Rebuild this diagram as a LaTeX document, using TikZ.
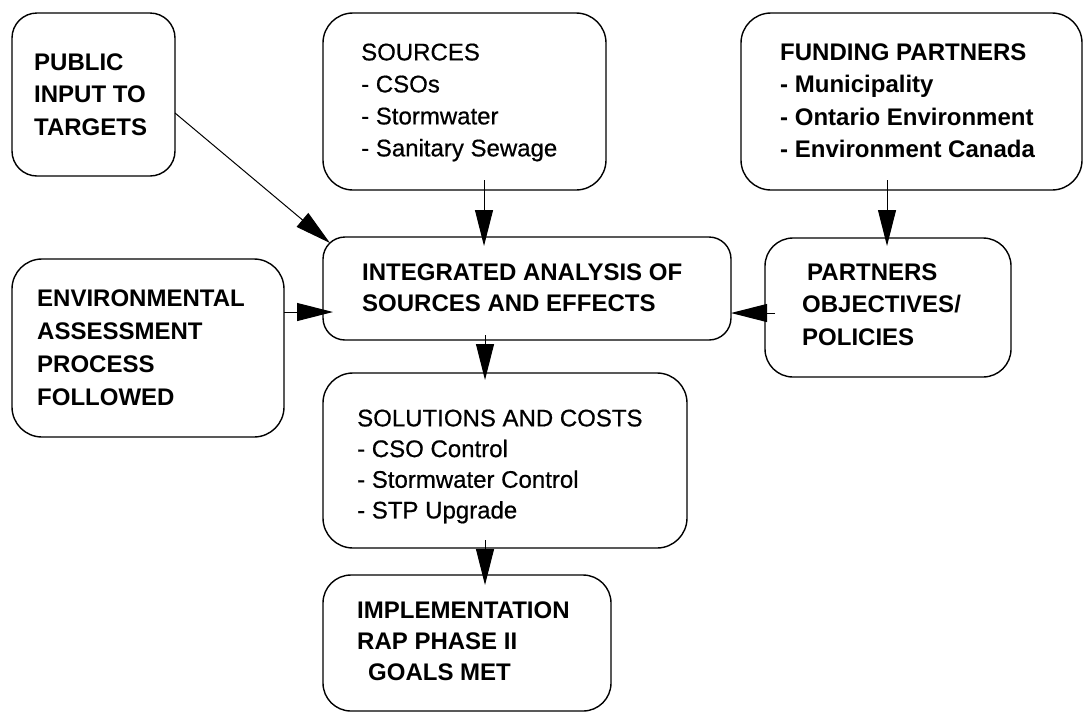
\documentclass[tikz,border=0pt]{standalone}
\usepackage{fontspec}
\setmainfont{Liberation Sans}
\newfontfamily\medfont[FakeBold=0.6]{Liberation Sans}
\usetikzlibrary{arrows.meta}
\begin{document}
\begin{tikzpicture}[x=1pt,y=-1pt,
  box/.style={draw, line width=1.4pt, inner sep=0pt, outer sep=0pt},
  txtb/.style={anchor=north west, inner sep=0pt, align=left, font=\fontsize{24}{32.5}\selectfont\bfseries},
  txtr/.style={anchor=north west, inner sep=0pt, align=left, font=\medfont\fontsize{24}{31.5}\selectfont},
  arr/.style={line width=1pt, -{Triangle[length=36pt,width=18pt]}}
]
\useasboundingbox (0,0) rectangle (1086,713);
% boxes
\node[box, minimum width=163pt, minimum height=163pt, rounded corners=25pt] (pub) at (93.5,94.5) {};
\node[box, minimum width=283pt, minimum height=177pt, rounded corners=30pt] (src) at (464.5,101.5) {};
\node[box, minimum width=341pt, minimum height=177pt, rounded corners=30pt] (fund) at (911.5,101.5) {};
\node[box, minimum width=408pt, minimum height=103pt, rounded corners=22pt] (integ) at (527,288.5) {};
\node[box, minimum width=272pt, minimum height=178pt, rounded corners=30pt] (env) at (148,348) {};
\node[box, minimum width=246pt, minimum height=139pt, rounded corners=28pt] (part) at (888,307.5) {};
\node[box, minimum width=364pt, minimum height=175pt, rounded corners=30pt] (sol) at (505,460.5) {};
\node[box, minimum width=288pt, minimum height=136pt, rounded corners=28pt] (impl) at (467,643) {};
% texts
\node[txtb] (tpub) at (34,53.4) {PUBLIC\\INPUT TO\\TARGETS};
\node[txtr, font=\medfont\fontsize{24}{32}\selectfont] (tsrc) at (361,43.4) {SOURCES\\- CSOs\\- Stormwater\\- Sanitary Sewage};
\node[txtb] (tfund) at (780,43.4) {FUNDING PARTNERS\\- Municipality\\- Ontario Environment\\- Environment Canada};
\node[txtb, font=\fontsize{24}{31}\selectfont\bfseries] (tinteg) at (362,263.4) {INTEGRATED ANALYSIS OF\\SOURCES AND EFFECTS};
\node[txtb, font=\fontsize{24}{33}\selectfont\bfseries] (tenv) at (37,289.4) {ENVIRONMENTAL\\ASSESSMENT\\PROCESS\\FOLLOWED};
\node[txtb] (tpart) at (802,263.4) {\hspace*{5pt}PARTNERS\\OBJECTIVES/\\POLICIES};
\node[txtr, font=\medfont\fontsize{24}{30.7}\selectfont] (tsol) at (357,409.4) {SOLUTIONS AND COSTS\\- CSO Control\\- Stormwater Control\\- STP Upgrade};
\node[txtb, font=\fontsize{24}{31}\selectfont\bfseries] (timpl) at (357,601.4) {IMPLEMENTATION\\RAP PHASE II\\\hspace*{11pt}GOALS MET};
% connectors
\draw[arr] ([yshift=-18.5pt]pub.east) -- ([xshift=7pt,yshift=-6pt]integ.north west);
\draw[arr] ([xshift=19.5pt,yshift=10pt]src.south) -- ([xshift=-43pt,yshift=-9pt]integ.north);
\draw[arr] ([xshift=-24.5pt,yshift=10pt]fund.south) -- ([xshift=-1pt,yshift=-8pt]part.north);
\draw[arr] ([yshift=36pt]env.east) -- ([xshift=10pt,yshift=-23.5pt]integ.west);
\draw[arr] ([xshift=10pt,yshift=-5.5pt]part.west) -- ([yshift=-24.5pt]integ.east);
\draw[arr] ([xshift=-42pt,yshift=5pt]integ.south) -- ([xshift=-20pt,yshift=-7pt]sol.north);
\draw[arr] ([xshift=-20pt,yshift=8pt]sol.south) -- ([xshift=18pt,yshift=-10pt]impl.north);
\end{tikzpicture}
\end{document}
